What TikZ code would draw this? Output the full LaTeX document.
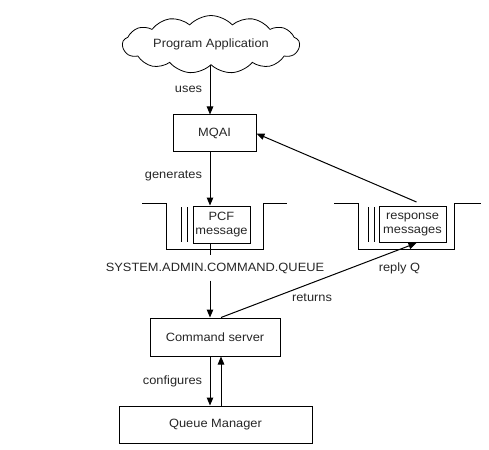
\documentclass[tikz,border=0pt]{standalone}
\usepackage{fontspec}
\setmainfont{Liberation Sans}[FakeStretch=1.07]
\usetikzlibrary{shapes.symbols,arrows.meta}
\begin{document}
\begin{tikzpicture}[x=1pt,y=-1pt,
    every node/.style={font=\fontsize{12}{13.5}\selectfont,text=black!85},
    box/.style={draw,line width=1pt,inner sep=0pt,align=center},
    wall/.style={line width=1pt},
    conn/.style={line width=1pt,-{Triangle[length=8pt,width=6.5pt]}},
    lbl/.style={inner sep=0pt}]
    \useasboundingbox (0,0) rectangle (489,449);
    % guide lines for the vertical connectors
    \coordinate (spine) at (210,0);
    \coordinate (back) at (221,0);
    % application and interface
    \node (app) [cloud,draw,cloud puffs=13,cloud puff arc=95,aspect=3.9,line width=0.8pt,
      minimum width=177pt,minimum height=45pt,inner sep=0pt] at (211,44.5) {Program Application};
    \node (mqai) [box,minimum width=83pt,minimum height=37pt] at (214.5,133.5) {MQAI};
    \node (uses) [lbl] at (188.5,89) {uses};
    \node (gen) [lbl] at (173.5,176) {generates};
    % command queue
    \draw [wall] (142,203) -- (166,203) -- (166,249) -- (263,249) -- (263,203) -- (287,203);
    \draw [wall] (181,207) -- (181,242);
    \draw [wall] (187,207) -- (187,242);
    \node (pcf) [box,minimum width=57pt,minimum height=37pt] at (221.5,224.5) {PCF\\message};
    \node (qname) [lbl,inner ysep=7pt] at (215,268) {SYSTEM.ADMIN.COMMAND.QUEUE};
    % reply queue
    \draw [wall] (334,203) -- (358,203) -- (358,249) -- (454,249) -- (454,203) -- (481,203);
    \draw [wall] (368,207) -- (368,242);
    \draw [wall] (374,207) -- (374,242);
    \node (resp) [box,minimum width=67pt,minimum height=36pt] at (412.5,224.5) {response\\messages};
    \node (replyq) [lbl] at (399.5,268) {reply Q};
    \node (ret) [lbl] at (312,298) {returns};
    % server and manager
    \node (cs) [box,minimum width=130pt,minimum height=38pt] at (215,337) {Command server};
    \node (qm) [box,minimum width=193pt,minimum height=37pt] at (215.5,424.5) {Queue Manager};
    \node (conf) [lbl] at (172.5,381) {configures};
    % connectors
    \draw [conn] (app.south -| spine) -- (mqai.north -| spine);
    \draw [conn] (mqai.south -| spine) -- (pcf.north -| spine);
    \draw [wall] (pcf.south -| spine) -- (qname.north -| spine);
    \draw [conn] (qname.south -| spine) -- (cs.north -| spine);
    \draw [conn] (cs.south -| spine) -- (qm.north -| spine);
    \draw [conn] (qm.north -| back) -- (cs.south -| back);
    \draw [conn] (cs.north -| back) -- ([xshift=4pt]resp.south);
    \draw [conn] ([xshift=4pt,yshift=4pt]resp.north) -- (mqai.east);
\end{tikzpicture}
\end{document}
